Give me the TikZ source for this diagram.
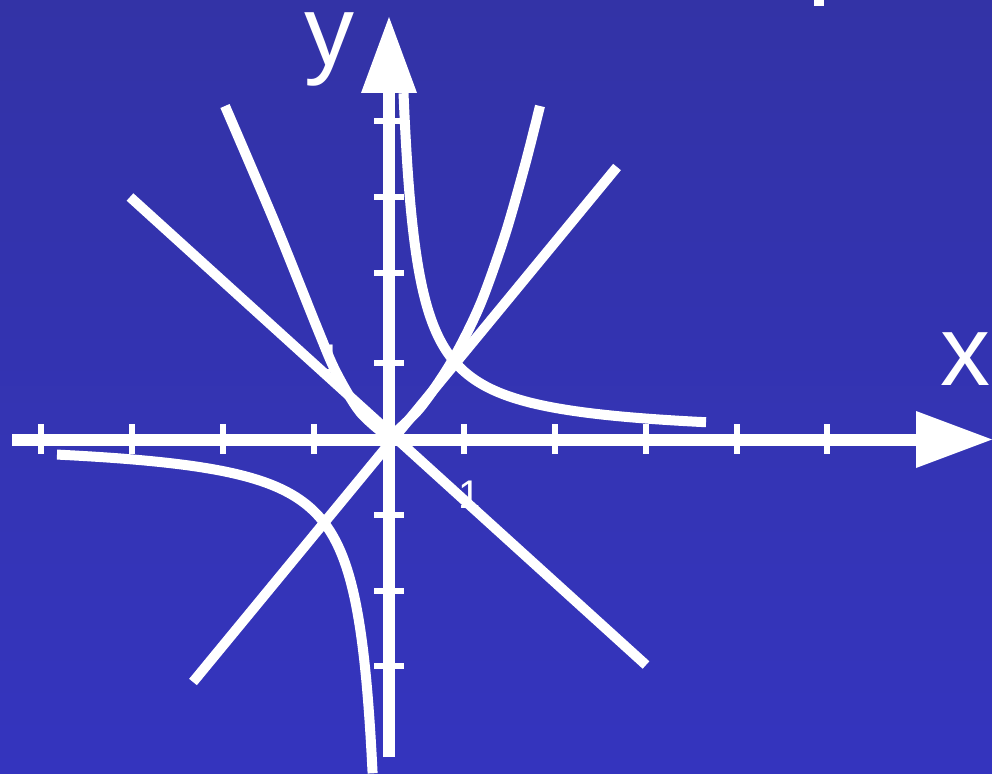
\documentclass[tikz,border=0pt]{standalone}
\usepackage{fontspec}
\setmainfont{Liberation Sans}
\definecolor{bgtop}{RGB}{51,51,166}
\definecolor{bgbot}{RGB}{52,52,190}
\tikzset{
  curve/.style={white, line width=10pt, line cap=butt, line join=round},
  axisline/.style={white, line width=12pt, line cap=butt},
  tickmark/.style={white, line width=6pt, line cap=butt},
  axislabel/.style={white, font=\fontsize{100}{100}\selectfont, inner sep=0pt, anchor=base, text height=52pt},
  unitlabel/.style={white, font=\fontsize{40}{40}\selectfont, inner sep=0pt, anchor=base west}
}
\begin{document}
\begin{tikzpicture}[x=1pt,y=-1pt]
\shade[top color=bgtop, bottom color=bgbot] (0,0) rectangle (992,773);
\useasboundingbox (0,0) rectangle (992,773);
% partly hidden unit labels
\node[unitlabel] (one1) at (319,372) {1};
\node[unitlabel] (one2) at (458,508) {1};
% lines y=x and y=-x
\draw[curve] (193,682) -- (617,167);
\draw[curve] (130,197) -- (646,665);
% parabola
\draw[curve] plot[smooth, tension=0.5] coordinates {(225,106) (275,223) (318,330) (336,372) (360,412) (389,438)};
\draw[curve] plot[smooth, tension=0.5] coordinates {(389,438) (420,408) (452,361) (480,305) (505,235) (525,165) (540,106)};
% hyperbola
\draw[curve] plot[domain=14.5:317, samples=300] ({389+\x},{438-5000/\x});
\draw[curve] plot[domain=-332:-16.4, samples=300] ({389+\x},{438-5500/\x});
% axes
\coordinate (xs) at (12,439.5);
\coordinate (xe) at (917,439.5);
\coordinate (ys) at (389,757);
\coordinate (ye) at (389,92);
\draw[axisline] (xs) -- (xe);
\draw[axisline] (ys) -- (ye);
\fill[white] (916,411) -- (992,439.5) -- (916,468) -- cycle;
\fill[white] (361,93) -- (389,17) -- (417,93) -- cycle;
% ticks
\foreach \t in {41,132,223,314,464,555,646,737,827}
  \draw[tickmark] (\t,424) -- (\t,454);
\foreach \t in {121,197,273,363,515,591,666}
  \draw[tickmark] (374,\t) -- (404,\t);
% axis labels
\node[axislabel] (ylab) at (329,66) {y};
\node[axislabel] (xlab) at (965,385) {x};
% cut-off mark at top
\fill[white] (814,0) rectangle (824,6);
\end{tikzpicture}
\end{document}
